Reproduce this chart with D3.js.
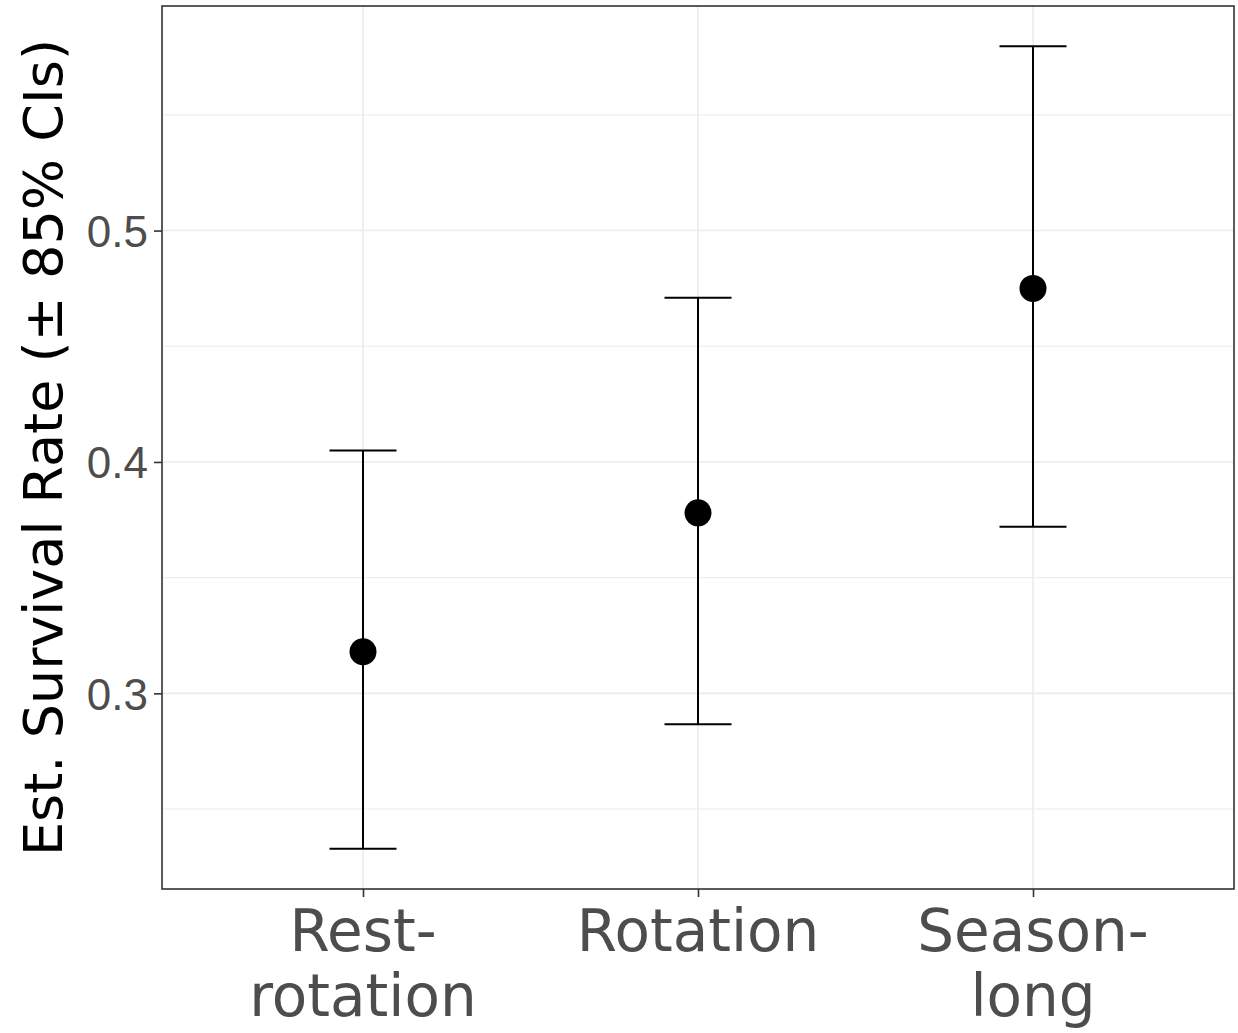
<!DOCTYPE html>
<html>
<head>
<meta charset="utf-8">
<script src="https://cdn.jsdelivr.net/npm/d3@7"></script>
<style>
  body { margin: 0; background: #fff; }
  svg { display: block; font-family: "DejaVu Sans", sans-serif; }
</style>
</head>
<body>
<div id="chart"></div>
<script>
let width = 1238, height = 1033;
let margin = {top: 6, right: 4, bottom: 144, left: 162};

let categories = ["Rest-rotation", "Rotation", "Season-long"];
let labelLines = [["Rest-", "rotation"], ["Rotation"], ["Season-", "long"]];
let estimate = [0.318, 0.378, 0.475];
let lower = [0.2328, 0.2866, 0.372];
let upper = [0.405, 0.471, 0.5797];
let yTicks = [0.3, 0.4, 0.5];
let yMinor = [0.25, 0.35, 0.45, 0.55];

let w = width - margin.left - margin.right;
let h = height - margin.top - margin.bottom;

let svg = d3.select('#chart')
    .append('svg')
    .attr('width', width)
    .attr('height', height);

let g = svg.append('g')
    .attr('transform', "translate(" + margin.left + "," + margin.top + ")");

// discrete x like ggplot: 0.6 units padding each side
let x = d3.scaleLinear()
    .domain([0.4, categories.length + 0.6])
    .range([0, w]);

let lo = d3.min(lower), hi = d3.max(upper);
let pad = (hi - lo) * 0.05;
let y = d3.scaleLinear()
    .domain([lo - pad, hi + pad])
    .range([h, 0]);

// grid
g.selectAll('.minor').data(yMinor).enter().append('line')
    .attr('x1', 0).attr('x2', w)
    .attr('y1', d => y(d)).attr('y2', d => y(d))
    .attr('stroke', '#ebebeb').attr('stroke-width', 1);
g.selectAll('.major').data(yTicks).enter().append('line')
    .attr('x1', 0).attr('x2', w)
    .attr('y1', d => y(d)).attr('y2', d => y(d))
    .attr('stroke', '#ebebeb').attr('stroke-width', 1.6);
g.selectAll('.vgrid').data(categories).enter().append('line')
    .attr('x1', (d, i) => x(i + 1)).attr('x2', (d, i) => x(i + 1))
    .attr('y1', 0).attr('y2', h)
    .attr('stroke', '#ebebeb').attr('stroke-width', 1.6);

// error bars
let capHalf = x(1.1) - x(1);
let bars = g.selectAll('.err').data(categories).enter().append('g');
bars.append('line')
    .attr('x1', (d, i) => x(i + 1)).attr('x2', (d, i) => x(i + 1))
    .attr('y1', (d, i) => y(lower[i])).attr('y2', (d, i) => y(upper[i]))
    .attr('stroke', '#000').attr('stroke-width', 2);
bars.append('line')
    .attr('x1', (d, i) => x(i + 1) - capHalf).attr('x2', (d, i) => x(i + 1) + capHalf)
    .attr('y1', (d, i) => y(lower[i])).attr('y2', (d, i) => y(lower[i]))
    .attr('stroke', '#000').attr('stroke-width', 2);
bars.append('line')
    .attr('x1', (d, i) => x(i + 1) - capHalf).attr('x2', (d, i) => x(i + 1) + capHalf)
    .attr('y1', (d, i) => y(upper[i])).attr('y2', (d, i) => y(upper[i]))
    .attr('stroke', '#000').attr('stroke-width', 2);

// points
g.selectAll('.pt').data(estimate).enter().append('circle')
    .attr('cx', (d, i) => x(i + 1))
    .attr('cy', d => y(d))
    .attr('r', 13.5)
    .attr('fill', '#000');

// panel border
g.append('rect')
    .attr('x', 0).attr('y', 0).attr('width', w).attr('height', h)
    .attr('fill', 'none').attr('stroke', '#333').attr('stroke-width', 1.6);

// y axis
let yAxis = d3.axisLeft(y).tickValues(yTicks).tickFormat(d3.format('.1f')).tickSize(8).tickPadding(6);
let ya = g.append('g').call(yAxis);
ya.select('.domain').remove();
ya.selectAll('.tick line').attr('stroke', '#333').attr('stroke-width', 1.6);
ya.selectAll('.tick text')
    .attr('fill', '#4d4d4d')
    .style('font-size', '44px')
    .attr('dy', '0.36em');

// x axis
let xAxis = d3.axisBottom(x).tickValues([1, 2, 3]).tickFormat('').tickSize(8);
let xa = g.append('g').attr('transform', "translate(0," + h + ")").call(xAxis);
xa.select('.domain').remove();
xa.selectAll('.tick line').attr('stroke', '#333').attr('stroke-width', 1.6);

let xl = g.selectAll('.xlab').data(labelLines).enter().append('text')
    .attr('text-anchor', 'middle')
    .attr('fill', '#4d4d4d')
    .style('font-size', '58px')
    .attr('transform', (d, i) => "translate(" + x(i + 1) + "," + (h + 62) + ")");
xl.selectAll('tspan').data(d => d).enter().append('tspan')
    .attr('x', 0)
    .attr('dy', (d, j) => j === 0 ? 0 : 65)
    .text(d => d);

// y title
svg.append('text')
    .attr('transform', "translate(62," + (margin.top + h / 2) + ") rotate(-90)")
    .attr('text-anchor', 'middle')
    .attr('fill', '#000')
    .style('font-size', '54px')
    .text("Est. Survival Rate (± 85% CIs)");
</script>
</body>
</html>
